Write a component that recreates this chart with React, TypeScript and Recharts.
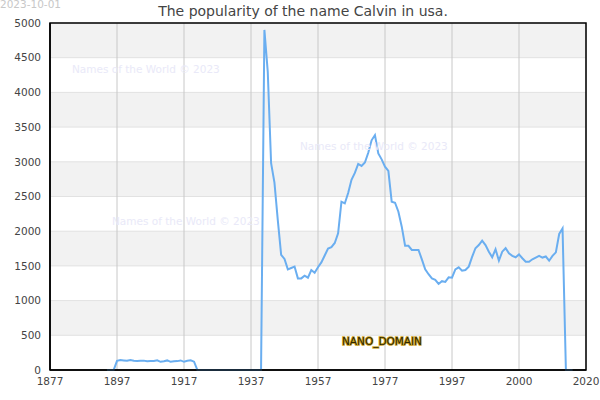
import React from 'react';
import { LineChart, Line, XAxis, YAxis, CartesianGrid, ReferenceArea } from 'recharts';

const years: number[] = [];
for (let y = 1894; y <= 2033; y++) years.push(y);

const counts: number[] = [
  // 1894-1897
  0, 0, 0, 132,
  // 1898-1920
  145, 138, 132, 145, 132, 130, 133, 135, 125, 128, 130, 140, 118, 125, 138, 118, 125, 128, 138, 118, 132, 140, 120,
  // 1921-1940
  0, 0, 0, 0, 0, 0, 0, 0, 0, 0, 0, 0, 0, 0, 0, 0, 0, 0, 0, 0,
  // 1941-1950
  4900, 4300, 2980, 2700, 2160, 1660, 1600, 1450, 1470, 1490,
  // 1951-1960
  1320, 1320, 1360, 1330, 1440, 1400, 1480, 1550, 1650, 1750,
  // 1961-1970
  1770, 1830, 1970, 2425, 2400, 2550, 2740, 2840, 2970, 2940,
  // 1971-1980
  2990, 3130, 3310, 3385, 3120, 3035, 2930, 2870, 2425, 2410,
  // 1981-1990
  2280, 2065, 1790, 1790, 1730, 1730, 1730, 1595, 1450, 1380,
  // 1991-2000
  1320, 1300, 1240, 1280, 1270, 1335, 1330, 1450, 1480, 1430,
  // 2001-2010
  1440, 1490, 1630, 1755, 1800, 1865, 1800, 1705, 1625, 1740,
  // 2011-2020
  1575, 1705, 1755, 1680, 1645, 1625, 1665, 1610, 1560, 1560,
  // 2021-2030
  1595, 1620, 1645, 1620, 1635, 1575, 1645, 1695, 1960, 2040,
  // 2031-2033
  0, 0, 0,
];

const xTicks = [1877, 1897, 1917, 1937, 1957, 1977, 1997, 2017, 2037];
const xTickLabels = ['1877', '1897', '1917', '1937', '1957', '1977', '1997', '2000', '2020'];
const yTicks = [0, 500, 1000, 1500, 2000, 2500, 3000, 3500, 4000, 4500, 5000];

const title = 'The popularity of the name Calvin in usa.';
const dateLabel = '2023-10-01';
const watermark = 'Names of the World © 2023';
const domainLabel = 'NANO_DOMAIN';

const data = years.map((year, i) => ({ year, value: counts[i] }));

const tickStyle = { fontSize: 10.5, fill: '#444', fontFamily: 'DejaVu Sans' };

export default function App() {
  return (
    <div style={{ position: 'absolute', left: 0, top: 0, width: 600, height: 400, fontFamily: 'DejaVu Sans', background: '#fff' }}>
      <LineChart width={600} height={400} data={data} margin={{ top: 23, right: 14, bottom: 0, left: 0 }}>
        <CartesianGrid
          horizontal={true}
          vertical={false}
          stroke="#e2e2e2"
          fill="none"
          horizontalFill={['#f2f2f2', '#ffffff']}
        />
        <CartesianGrid horizontal={false} vertical={true} stroke="#c8c8c8" />
        <XAxis
          dataKey="year"
          type="number"
          domain={[1877, 2037]}
          ticks={xTicks}
          tickFormatter={(v: number, i: number) => xTickLabels[i]}
          tickLine={false}
          axisLine={{ stroke: '#000', strokeWidth: 1.5 }}
          tick={tickStyle}
          height={30}
          interval={0}
        />
        <YAxis
          type="number"
          domain={[0, 5000]}
          ticks={yTicks}
          width={50}
          tickLine={false}
          axisLine={{ stroke: '#000', strokeWidth: 1.5 }}
          tick={tickStyle}
          tickMargin={3}
          interval={0}
        />
        <ReferenceArea x1={1877} x2={2037} y1={0} y2={5000} fill="none" fillOpacity={0} stroke="#000" strokeWidth={1.5} />
        <Line
          type="linear"
          dataKey="value"
          stroke="#6aaef0"
          strokeWidth={2}
          dot={false}
          isAnimationActive={false}
        />
      </LineChart>
      <svg width={600} height={400} style={{ position: 'absolute', left: 0, top: 0, pointerEvents: 'none' }}>
        <text x={0} y={7.5} fontSize={10.5} fill="#c8c8c8" fontFamily="DejaVu Sans">{dateLabel}</text>
        <text x={303} y={16} fontSize={14} fill="#444" textAnchor="middle" fontFamily="DejaVu Sans">{title}</text>
        <text x={72} y={72.8} fontSize={10.5} fill="#e9e9f8" fontFamily="DejaVu Sans">{watermark}</text>
        <text x={112} y={225} fontSize={10.5} fill="#e9e9f8" fontFamily="DejaVu Sans">{watermark}</text>
        <text x={300} y={150} fontSize={10.5} fill="#e9e9f8" fontFamily="DejaVu Sans">{watermark}</text>
        <text
          x={342}
          y={345}
          fontSize={10.5}
          fill="#2e2600"
          stroke="#c9a227"
          strokeWidth={1.6}
          paintOrder="stroke"
          fontFamily="DejaVu Sans"
        >
          {domainLabel}
        </text>
      </svg>
    </div>
  );
}
